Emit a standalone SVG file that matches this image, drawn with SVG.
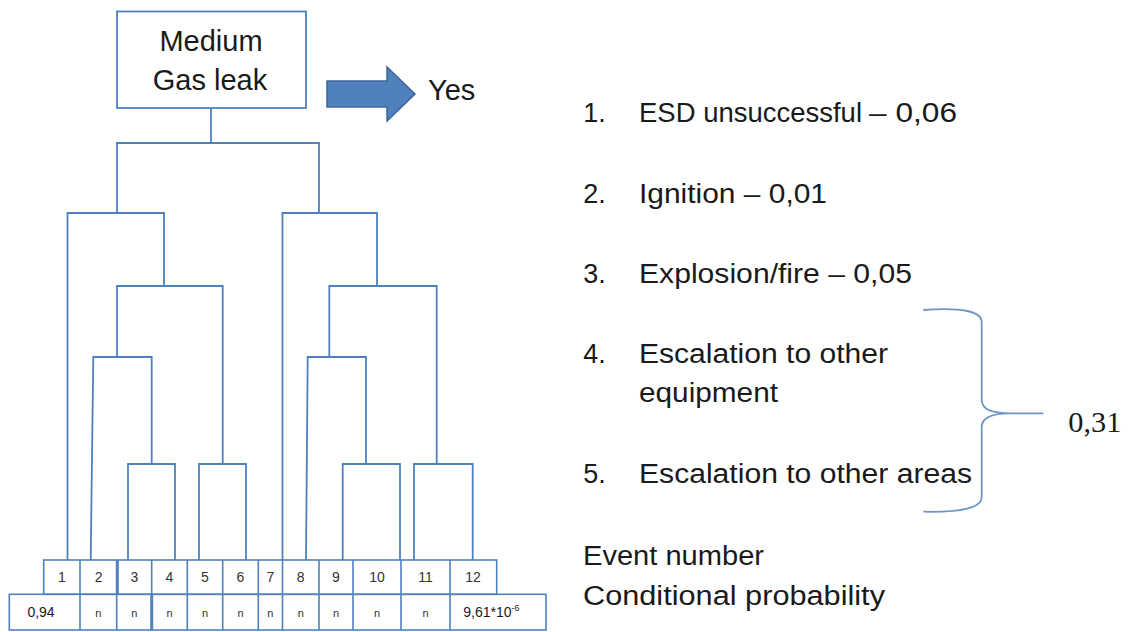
<svg xmlns="http://www.w3.org/2000/svg" width="1131" height="632" viewBox="0 0 1131 632">
<style>
.ln{fill:none;stroke:#4F81BD;stroke-width:1.8;stroke-linejoin:miter}
.tb{fill:none;stroke:#4F81BD;stroke-width:1.6}
.thick{stroke-width:3}
.t{font-family:"Liberation Sans",Arial,sans-serif;fill:#1a1a1a}
.big{font-size:29px}
.lst{font-size:27px}
.c1{font-size:14px;text-anchor:middle;fill:#333}
.c2{font-size:11px;text-anchor:middle;fill:#333}
</style>
<rect width="1131" height="632" fill="#ffffff"/>

<g id="top-event">
<rect x="117" y="11.5" width="189" height="96.5" class="ln"/>
<text class="t big" x="211" y="51" text-anchor="middle">Medium</text>
<text class="t big" x="210" y="90" text-anchor="middle">Gas leak</text>
</g>

<g id="yes-arrow">
<path d="M327,81 H387 V67 L415,94 L387,121 V107 H327 Z" fill="#4F81BD" stroke="#3C6597" stroke-width="1.5"/>
<text class="t" x="428" y="100" font-size="29">Yes</text>
</g>

<g id="connectors">
<path class="ln" d="M211,108 V143"/>
<path class="ln" d="M117,213 V143 H319 V213"/>
<path class="ln" d="M67.5,560 V213 H164 V286"/>
<path class="ln" d="M282.5,560 V213 H377 V286"/>
<path class="ln" d="M117,357 V286 H222.7 V464"/>
<path class="ln" d="M90.7,560 L93.3,357 H151.7 V464"/>
<path class="ln" d="M128,560 V464 H175 V560"/>
<path class="ln" d="M199,560 V464 H246 V560"/>
<path class="ln" d="M329.3,357 V286 H436.7 V464"/>
<path class="ln" d="M306,560 L307.7,357 H366 V464"/>
<path class="ln" d="M342.7,560 V464 H400 V560"/>
<path class="ln" d="M414,560 V464 H472.7 V560"/>
</g>

<g id="event-numbers">
<rect class="tb" x="43.7" y="560" width="453" height="34.3"/>
<path class="tb" d="M80,560V594 M151.7,560V594 M187.3,560V594 M222.7,560V594 M258.3,560V594 M282.5,560V594 M319,560V594 M353,560V594 M401,560V594 M450,560V594"/>
<path class="tb thick" d="M117.3,560V594"/>
<text class="t c1" x="62" y="582">1</text>
<text class="t c1" x="98.7" y="582">2</text>
<text class="t c1" x="134.5" y="582">3</text>
<text class="t c1" x="169.5" y="582">4</text>
<text class="t c1" x="205" y="582">5</text>
<text class="t c1" x="240.5" y="582">6</text>
<text class="t c1" x="270.4" y="582">7</text>
<text class="t c1" x="300.7" y="582">8</text>
<text class="t c1" x="336" y="582">9</text>
<text class="t c1" x="377" y="582">10</text>
<text class="t c1" x="425.5" y="582">11</text>
<text class="t c1" x="473" y="582">12</text>
</g>

<g id="probabilities">
<rect class="tb" x="9.3" y="594.3" width="536.7" height="35.7"/>
<path class="tb" d="M80,594V630 M116.7,594V630 M187.3,594V630 M222.7,594V630 M258.3,594V630 M282.5,594V630 M319,594V630 M353,594V630 M401,594V630 M450,594V630"/>
<path class="tb thick" d="M151.7,594V630"/>
<text class="t" x="41" y="617" font-size="14" fill="#333" text-anchor="middle">0,94</text>
<text class="t c2" x="98.4" y="617">n</text>
<text class="t c2" x="134.2" y="617">n</text>
<text class="t c2" x="169.5" y="617">n</text>
<text class="t c2" x="205" y="617">n</text>
<text class="t c2" x="240.5" y="617">n</text>
<text class="t c2" x="270.4" y="617">n</text>
<text class="t c2" x="300.7" y="617">n</text>
<text class="t c2" x="336" y="617">n</text>
<text class="t c2" x="377" y="617">n</text>
<text class="t c2" x="425.5" y="617">n</text>
<text class="t" x="463.3" y="617" font-size="14" fill="#333">9,61*10<tspan font-size="9" dy="-6">-6</tspan></text>
</g>

<g id="legend">
<text class="t lst" x="583.3" y="121.7">1.</text>
<text class="t lst" x="639" y="121.7" textLength="223" lengthAdjust="spacingAndGlyphs">ESD unsuccessful</text>
<text class="t lst" x="869" y="121.7" textLength="88" lengthAdjust="spacingAndGlyphs">– 0,06</text>
<text class="t lst" x="583.3" y="203.3">2.</text>
<text class="t lst" x="639" y="203.3" textLength="188" lengthAdjust="spacingAndGlyphs">Ignition – 0,01</text>
<text class="t lst" x="583.3" y="283.3">3.</text>
<text class="t lst" x="639" y="283.3" textLength="273" lengthAdjust="spacingAndGlyphs">Explosion/fire – 0,05</text>
<text class="t lst" x="583.3" y="363.3">4.</text>
<text class="t lst" x="639" y="363.3" textLength="249" lengthAdjust="spacingAndGlyphs">Escalation to other</text>
<text class="t lst" x="639" y="401.7" textLength="139" lengthAdjust="spacingAndGlyphs">equipment</text>
<text class="t lst" x="583.3" y="483.3">5.</text>
<text class="t lst" x="639" y="483.3" textLength="333" lengthAdjust="spacingAndGlyphs">Escalation to other areas</text>
<text class="t lst" x="583" y="565" textLength="181" lengthAdjust="spacingAndGlyphs">Event number</text>
<text class="t lst" x="583" y="605" textLength="302" lengthAdjust="spacingAndGlyphs">Conditional probability</text>
</g>

<g id="brace">
<path d="M923.3,310 Q981.7,306 981.7,322 V400 Q981.7,413.3 1010,413.3 H1043.3 M1010,413.3 Q981.7,413.3 981.7,427 V497 Q981.7,513 923.3,511.7" fill="none" stroke="#6F95C8" stroke-width="1.8"/>
<text x="1068.3" y="431.7" font-family="'Liberation Serif','Times New Roman',serif" font-size="30" fill="#1a1a1a" textLength="53" lengthAdjust="spacingAndGlyphs">0,31</text>
</g>
</svg>
